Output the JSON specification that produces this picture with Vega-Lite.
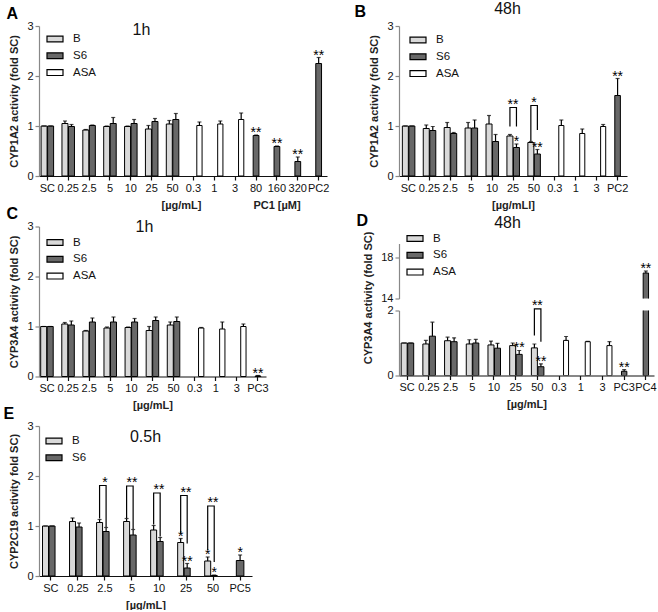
{
"$schema":"https://vega.github.io/schema/vega-lite/v6.json",
"padding":{"left":3,"top":0,"right":0,"bottom":0},
"background":"white",
"config":{
 "font":"Liberation Sans",
 "view":{"stroke":null},
 "axis":{"grid":false,"labelFont":"Liberation Sans","labelFontSize":11,"labelColor":"#111","titleFont":"Liberation Sans","titleFontSize":11,"titleFontWeight":"bold","titleColor":"#222","tickSize":4,"labelPadding":2,"domainWidth":1.2,"tickWidth":1.2},
 "axisX":{"labelAngle":0,"labelOverlap":false,"domainColor":"#111","tickColor":"#111","titlePadding":6},
 "axisY":{"domainColor":"#888","tickColor":"#888","titlePadding":7},
 "legend":{"symbolType":"M-1,-0.36H1V0.36H-1Z","symbolSize":256,"symbolStrokeColor":"#000","symbolStrokeWidth":1.2,"labelFontSize":11.5,"labelOffset":9,"rowPadding":1.8,"padding":0,"labelColor":"#111","labelFont":"Liberation Sans"},
 "title":{"font":"Liberation Sans","color":"#111"},
 "text":{"font":"Liberation Sans"}
},
"datasets":{
 "a":[
  {"c":"SC","s":"B","v":1,"h":1,"sig":""},{"c":"SC","s":"S6","v":1,"h":1,"sig":""},
  {"c":"0.25","s":"B","v":1.05,"h":1.1,"sig":""},{"c":"0.25","s":"S6","v":0.99,"h":1.03,"sig":""},
  {"c":"2.5","s":"B","v":0.92,"h":0.93,"sig":""},{"c":"2.5","s":"S6","v":1.01,"h":1.02,"sig":""},
  {"c":"5","s":"B","v":0.99,"h":1.0,"sig":""},{"c":"5","s":"S6","v":1.05,"h":1.17,"sig":""},
  {"c":"10","s":"B","v":0.99,"h":1.0,"sig":""},{"c":"10","s":"S6","v":1.05,"h":1.13,"sig":""},
  {"c":"25","s":"B","v":0.94,"h":1.01,"sig":""},{"c":"25","s":"S6","v":1.09,"h":1.15,"sig":""},
  {"c":"50","s":"B","v":1.04,"h":1.11,"sig":""},{"c":"50","s":"S6","v":1.13,"h":1.25,"sig":""},
  {"c":"0.3","s":"ASA","v":1.01,"h":1.08,"sig":""},
  {"c":"1","s":"ASA","v":1.04,"h":1.1,"sig":""},
  {"c":"3","s":"ASA","v":1.13,"h":1.26,"sig":""},
  {"c":"80","s":"PC","v":0.81,"h":0.82,"sig":"**"},
  {"c":"160","s":"PC","v":0.59,"h":0.6,"sig":"**"},
  {"c":"320","s":"PC","v":0.29,"h":0.38,"sig":"**"},
  {"c":"PC2","s":"PC","v":2.25,"h":2.37,"sig":"**"}
 ],
 "b":[
  {"c":"SC","s":"B","v":1,"h":1,"sig":""},{"c":"SC","s":"S6","v":1,"h":1,"sig":""},
  {"c":"0.25","s":"B","v":0.95,"h":1.02,"sig":""},{"c":"0.25","s":"S6","v":0.91,"h":0.99,"sig":""},
  {"c":"2.5","s":"B","v":0.97,"h":1.07,"sig":""},{"c":"2.5","s":"S6","v":0.85,"h":0.87,"sig":""},
  {"c":"5","s":"B","v":0.96,"h":1.07,"sig":""},{"c":"5","s":"S6","v":0.96,"h":1.12,"sig":""},
  {"c":"10","s":"B","v":1.04,"h":1.21,"sig":""},{"c":"10","s":"S6","v":0.69,"h":0.83,"sig":""},
  {"c":"25","s":"B","v":0.8,"h":0.83,"sig":""},{"c":"25","s":"S6","v":0.57,"h":0.64,"sig":"*"},
  {"c":"50","s":"B","v":0.67,"h":0.69,"sig":""},{"c":"50","s":"S6","v":0.44,"h":0.53,"sig":"**"},
  {"c":"0.3","s":"ASA","v":1.01,"h":1.12,"sig":""},
  {"c":"1","s":"ASA","v":0.85,"h":0.94,"sig":""},
  {"c":"3","s":"ASA","v":0.99,"h":1.03,"sig":""},
  {"c":"PC2","s":"PC","v":1.61,"h":1.95,"sig":"**"}
 ],
 "bb":[
  {"c":"25","s":"B","y":0.99,"k":1,"sig":""},{"c":"25","s":"B","y":1.37,"k":2,"sig":"**"},{"c":"25","s":"S6","y":1.37,"k":3,"sig":""},{"c":"25","s":"S6","y":0.99,"k":4,"sig":""},
  {"c":"50","s":"B","y":0.7,"k":1,"sig":""},{"c":"50","s":"B","y":1.41,"k":2,"sig":"*"},{"c":"50","s":"S6","y":1.41,"k":3,"sig":""},{"c":"50","s":"S6","y":0.92,"k":4,"sig":""}
 ],
 "c":[
  {"c":"SC","s":"B","v":1,"h":1,"sig":""},{"c":"SC","s":"S6","v":1,"h":1,"sig":""},
  {"c":"0.25","s":"B","v":1.05,"h":1.08,"sig":""},{"c":"0.25","s":"S6","v":1.03,"h":1.11,"sig":""},
  {"c":"2.5","s":"B","v":0.91,"h":0.92,"sig":""},{"c":"2.5","s":"S6","v":1.09,"h":1.17,"sig":""},
  {"c":"5","s":"B","v":0.97,"h":0.99,"sig":""},{"c":"5","s":"S6","v":1.09,"h":1.19,"sig":""},
  {"c":"10","s":"B","v":0.98,"h":0.99,"sig":""},{"c":"10","s":"S6","v":1.09,"h":1.16,"sig":""},
  {"c":"25","s":"B","v":0.92,"h":1.0,"sig":""},{"c":"25","s":"S6","v":1.12,"h":1.19,"sig":""},
  {"c":"50","s":"B","v":1.03,"h":1.09,"sig":""},{"c":"50","s":"S6","v":1.1,"h":1.19,"sig":""},
  {"c":"0.3","s":"ASA","v":0.97,"h":0.98,"sig":""},
  {"c":"1","s":"ASA","v":0.95,"h":1.09,"sig":""},
  {"c":"3","s":"ASA","v":1.0,"h":1.05,"sig":""},
  {"c":"PC3","s":"PC","v":0.01,"h":0.02,"sig":"**"}
 ],
 "d":[
  {"c":"SC","s":"B","v":1,"h":1,"sig":""},{"c":"SC","s":"S6","v":1,"h":1,"sig":""},
  {"c":"0.25","s":"B","v":0.97,"h":1.08,"sig":""},{"c":"0.25","s":"S6","v":1.21,"h":1.64,"sig":""},
  {"c":"2.5","s":"B","v":1.07,"h":1.18,"sig":""},{"c":"2.5","s":"S6","v":1.04,"h":1.16,"sig":""},
  {"c":"5","s":"B","v":0.97,"h":1.1,"sig":""},{"c":"5","s":"S6","v":1.0,"h":1.11,"sig":""},
  {"c":"10","s":"B","v":0.94,"h":1.06,"sig":""},{"c":"10","s":"S6","v":0.84,"h":0.99,"sig":""},
  {"c":"25","s":"B","v":0.92,"h":1.0,"sig":""},{"c":"25","s":"S6","v":0.65,"h":0.77,"sig":"**"},
  {"c":"50","s":"B","v":0.85,"h":0.97,"sig":""},{"c":"50","s":"S6","v":0.27,"h":0.36,"sig":"**"},
  {"c":"0.3","s":"ASA","v":1.08,"h":1.2,"sig":""},
  {"c":"1","s":"ASA","v":1.04,"h":1.05,"sig":""},
  {"c":"3","s":"ASA","v":0.92,"h":1.04,"sig":""},
  {"c":"PC3","s":"PC","v":0.13,"h":0.18,"sig":"**"},
  {"c":"PC4","s":"PC","v":16.5,"h":16.7,"sig":"**"}
 ],
 "db":[
  {"c":"50","s":"B","y":1.23,"k":1,"sig":""},{"c":"50","s":"B","y":2.05,"k":2,"sig":"**"},{"c":"50","s":"S6","y":2.05,"k":3,"sig":""},{"c":"50","s":"S6","y":1.04,"k":4,"sig":""}
 ],
 "e":[
  {"c":"SC","s":"B","v":1,"h":1,"sig":""},{"c":"SC","s":"S6","v":1,"h":1,"sig":""},
  {"c":"0.25","s":"B","v":1.09,"h":1.16,"sig":""},{"c":"0.25","s":"S6","v":0.98,"h":1.06,"sig":""},
  {"c":"2.5","s":"B","v":1.07,"h":1.13,"sig":""},{"c":"2.5","s":"S6","v":0.89,"h":0.97,"sig":""},
  {"c":"5","s":"B","v":1.09,"h":1.15,"sig":""},{"c":"5","s":"S6","v":0.82,"h":0.93,"sig":""},
  {"c":"10","s":"B","v":0.92,"h":1.01,"sig":""},{"c":"10","s":"S6","v":0.69,"h":0.77,"sig":""},
  {"c":"25","s":"B","v":0.67,"h":0.75,"sig":"*"},{"c":"25","s":"S6","v":0.16,"h":0.25,"sig":"**"},
  {"c":"50","s":"B","v":0.3,"h":0.38,"sig":"*"},{"c":"50","s":"S6","v":0.01,"h":0.02,"sig":"*"},
  {"c":"PC5","s":"PC","v":0.31,"h":0.42,"sig":"*"}
 ],
 "eb":[
  {"c":"2.5","s":"B","y":1.15,"k":1,"sig":""},{"c":"2.5","s":"B","y":1.81,"k":2,"sig":"*"},{"c":"2.5","s":"S6","y":1.81,"k":3,"sig":""},{"c":"2.5","s":"S6","y":0.98,"k":4,"sig":""},
  {"c":"5","s":"B","y":1.16,"k":1,"sig":""},{"c":"5","s":"B","y":1.8,"k":2,"sig":"**"},{"c":"5","s":"S6","y":1.8,"k":3,"sig":""},{"c":"5","s":"S6","y":0.94,"k":4,"sig":""},
  {"c":"10","s":"B","y":1.03,"k":1,"sig":""},{"c":"10","s":"B","y":1.66,"k":2,"sig":"**"},{"c":"10","s":"S6","y":1.66,"k":3,"sig":""},{"c":"10","s":"S6","y":0.79,"k":4,"sig":""},
  {"c":"25","s":"B","y":0.85,"k":1,"sig":""},{"c":"25","s":"B","y":1.61,"k":2,"sig":"**"},{"c":"25","s":"S6","y":1.61,"k":3,"sig":""},{"c":"25","s":"S6","y":0.65,"k":4,"sig":""},
  {"c":"50","s":"B","y":0.52,"k":1,"sig":""},{"c":"50","s":"B","y":1.4,"k":2,"sig":"**"},{"c":"50","s":"S6","y":1.4,"k":3,"sig":""},{"c":"50","s":"S6","y":0.28,"k":4,"sig":""}
 ]
},
"resolve":{"scale":{"fill":"independent"},"legend":{"fill":"independent"}},
"spacing":25,
"hconcat":[
 {"resolve":{"scale":{"fill":"independent"},"legend":{"fill":"independent"}},
  "spacing":-6,
  "vconcat":[
  {"resolve":{"scale":{"fill":"independent"},"legend":{"fill":"independent"}},
   "spacing":-4.5,
   "vconcat":[
     {"width":288,"height":150,
      "data":{"name":"a"},
      "resolve":{"axis":{"x":"independent","y":"independent"}},
      "layer":[
       {"layer":[
        {"transform":[{"filter":"datum.s == 'B' || datum.s == 'S6'"}],
         "encoding":{
          "x":{"field":"c","type":"nominal","scale":{"domain":["SC","0.25","2.5","5","10","25","50","0.3","1","3","80","160","320","PC2"],"paddingInner":0.4,"paddingOuter":0.1},"axis":{"orient":"bottom","title":"[µg/mL]\u00a0\u00a0\u00a0\u00a0\u00a0\u00a0\u00a0\u00a0\u00a0\u00a0\u00a0\u00a0\u00a0\u00a0\u00a0\u00a0\u00a0PC1 [µM]","titleAlign":"left","titleAnchor":"start","titleX":122}},
          "xOffset":{"field":"s","type":"nominal","scale":{"domain":["B","S6"],"paddingInner":0.08}}},
         "layer":[
          {"mark":{"type":"bar","stroke":"#000","strokeWidth":1},"encoding":{"y":{"field":"v","type":"quantitative","scale":{"domain":[0,3],"nice":false},"axis":{"orient":"left","title":"CYP1A2 activity (fold SC)","values":[0,1,2,3]}},"fill":{"field":"s","type":"nominal","scale":{"domain":["B","S6","ASA","PC"],"range":["#d9d9d9","#686868","#ffffff","#686868"]},"legend":{"orient":"none","legendX":7,"legendY":4,"title":null,"values":["B","S6","ASA"]}}}},
          {"mark":{"type":"rule","color":"#000","strokeWidth":1.2},"encoding":{"y":{"field":"v","type":"quantitative"},"y2":{"field":"h"}}},
          {"mark":{"type":"tick","color":"#000","size":4,"thickness":1.2},"encoding":{"y":{"field":"h","type":"quantitative"}}},
          {"mark":{"type":"text","fontSize":14,"baseline":"alphabetic","dy":2,"color":"#000"},"encoding":{"y":{"field":"h","type":"quantitative"},"text":{"field":"sig"}}}
         ]},
        {"transform":[{"filter":"datum.s == 'ASA'"}],
         "encoding":{"x":{"field":"c","type":"nominal"}},
         "layer":[
          {"mark":{"type":"bar","stroke":"#000","strokeWidth":1,"width":{"band":0.42},"xOffset":6},"encoding":{"y":{"field":"v","type":"quantitative"},"fill":{"field":"s","type":"nominal"}}},
          {"mark":{"type":"rule","color":"#000","strokeWidth":1.2,"xOffset":6},"encoding":{"y":{"field":"v","type":"quantitative"},"y2":{"field":"h"}}},
          {"mark":{"type":"tick","color":"#000","size":4,"thickness":1.2,"xOffset":6},"encoding":{"y":{"field":"h","type":"quantitative"}}}
         ]},
        {"transform":[{"filter":"datum.s == 'PC'"}],
         "encoding":{"x":{"field":"c","type":"nominal"}},
         "layer":[
          {"mark":{"type":"bar","stroke":"#000","strokeWidth":1,"width":{"band":0.46}},"encoding":{"y":{"field":"v","type":"quantitative"},"fill":{"field":"s","type":"nominal"}}},
          {"mark":{"type":"rule","color":"#000","strokeWidth":1.2},"encoding":{"y":{"field":"v","type":"quantitative"},"y2":{"field":"h"}}},
          {"mark":{"type":"tick","color":"#000","size":4,"thickness":1.2},"encoding":{"y":{"field":"h","type":"quantitative"}}}
         ]}
       ]},
       {"transform":[{"filter":"datum.s == 'PC'"}],
        "mark":{"type":"text","fontSize":14,"baseline":"alphabetic","dy":2,"color":"#000"},
        "encoding":{
         "x":{"field":"c","type":"nominal","axis":{"orient":"top","title":"1h","labels":false,"ticks":false,"domain":false,"minExtent":0,"titleX":102,"titleY":8,"titleAlign":"center","titleBaseline":"alphabetic","titleFontSize":16,"titleFontWeight":"normal","titleColor":"#111","titlePadding":0}},
         "y":{"field":"h","type":"quantitative","axis":{"orient":"right","title":"A","labels":false,"ticks":false,"domain":false,"minExtent":0,"titleAngle":0,"titleX":-321,"titleY":-8,"titleAlign":"left","titleBaseline":"alphabetic","titleFontSize":16,"titleFontWeight":"bold","titleColor":"#000","titlePadding":0}},
         "text":{"field":"sig"}}}
      ]},
     {"width":227,"height":150,
      "data":{"name":"c"},
      "resolve":{"axis":{"x":"independent","y":"independent"}},
      "layer":[
       {"layer":[
        {"transform":[{"filter":"datum.s == 'B' || datum.s == 'S6'"}],
         "encoding":{
          "x":{"field":"c","type":"nominal","scale":{"domain":["SC","0.25","2.5","5","10","25","50","0.3","1","3","PC3"],"paddingInner":0.4,"paddingOuter":0.08},"axis":{"orient":"bottom","title":"[µg/mL]"}},
          "xOffset":{"field":"s","type":"nominal","scale":{"domain":["B","S6"],"paddingInner":0.08}}},
         "layer":[
          {"mark":{"type":"bar","stroke":"#000","strokeWidth":1},"encoding":{"y":{"field":"v","type":"quantitative","scale":{"domain":[0,3],"nice":false},"axis":{"orient":"left","title":"CYP3A4 activity (fold SC)","values":[0,1,2,3]}},"fill":{"field":"s","type":"nominal","scale":{"domain":["B","S6","ASA","PC"],"range":["#d9d9d9","#686868","#ffffff","#686868"]},"legend":{"orient":"none","legendX":7,"legendY":7,"title":null,"values":["B","S6","ASA"]}}}},
          {"mark":{"type":"rule","color":"#000","strokeWidth":1.2},"encoding":{"y":{"field":"v","type":"quantitative"},"y2":{"field":"h"}}},
          {"mark":{"type":"tick","color":"#000","size":4,"thickness":1.2},"encoding":{"y":{"field":"h","type":"quantitative"}}}
         ]},
        {"transform":[{"filter":"datum.s == 'ASA'"}],
         "encoding":{"x":{"field":"c","type":"nominal"}},
         "layer":[
          {"mark":{"type":"bar","stroke":"#000","strokeWidth":1,"width":{"band":0.42},"xOffset":6.5},"encoding":{"y":{"field":"v","type":"quantitative"},"fill":{"field":"s","type":"nominal"}}},
          {"mark":{"type":"rule","color":"#000","strokeWidth":1.2,"xOffset":6.5},"encoding":{"y":{"field":"v","type":"quantitative"},"y2":{"field":"h"}}},
          {"mark":{"type":"tick","color":"#000","size":4,"thickness":1.2,"xOffset":6.5},"encoding":{"y":{"field":"h","type":"quantitative"}}}
         ]},
        {"transform":[{"filter":"datum.s == 'PC'"}],
         "encoding":{"x":{"field":"c","type":"nominal"}},
         "layer":[
          {"mark":{"type":"bar","stroke":"#000","strokeWidth":1,"width":{"band":0.46}},"encoding":{"y":{"field":"v","type":"quantitative"},"fill":{"field":"s","type":"nominal"}}},
          {"mark":{"type":"rule","color":"#000","strokeWidth":1.2},"encoding":{"y":{"field":"v","type":"quantitative"},"y2":{"field":"h"}}},
          {"mark":{"type":"tick","color":"#000","size":4,"thickness":1.2},"encoding":{"y":{"field":"h","type":"quantitative"}}}
         ]}
       ]},
       {"transform":[{"filter":"datum.s == 'PC'"}],
        "mark":{"type":"text","fontSize":14,"baseline":"alphabetic","dy":2,"color":"#000"},
        "encoding":{
         "x":{"field":"c","type":"nominal","axis":{"orient":"top","title":"1h","labels":false,"ticks":false,"domain":false,"minExtent":0,"titleX":105,"titleY":5,"titleAlign":"center","titleBaseline":"alphabetic","titleFontSize":16,"titleFontWeight":"normal","titleColor":"#111","titlePadding":0}},
         "y":{"field":"h","type":"quantitative","axis":{"orient":"right","title":"C","labels":false,"ticks":false,"domain":false,"minExtent":0,"titleAngle":0,"titleX":-260,"titleY":-8,"titleAlign":"left","titleBaseline":"alphabetic","titleFontSize":16,"titleFontWeight":"bold","titleColor":"#000","titlePadding":0}},
         "text":{"field":"sig"}}}
      ]}
   ]},
     {"width":213,"height":150,
      "data":{"name":"e"},
      "resolve":{"axis":{"x":"independent","y":"independent"}},
      "layer":[
       {"layer":[
        {"transform":[{"filter":"datum.s == 'B' || datum.s == 'S6'"}],
         "encoding":{
          "x":{"field":"c","type":"nominal","scale":{"domain":["SC","0.25","2.5","5","10","25","50","PC5"],"paddingInner":0.38,"paddingOuter":0.13},"axis":{"orient":"bottom","title":"[µg/mL]"}},
          "xOffset":{"field":"s","type":"nominal","scale":{"domain":["B","S6"],"paddingInner":0.35}}},
         "layer":[
          {"mark":{"type":"bar","stroke":"#000","strokeWidth":1},"encoding":{"y":{"field":"v","type":"quantitative","scale":{"domain":[0,3],"nice":false},"axis":{"orient":"left","title":"CYP2C19 activity fold SC)","values":[0,1,2,3]}},"fill":{"field":"s","type":"nominal","scale":{"domain":["B","S6","ASA","PC"],"range":["#d9d9d9","#686868","#ffffff","#686868"]},"legend":{"orient":"none","legendX":6,"legendY":6,"title":null,"values":["B","S6"]}}}},
          {"mark":{"type":"rule","color":"#000","strokeWidth":1.2},"encoding":{"y":{"field":"v","type":"quantitative"},"y2":{"field":"h"}}},
          {"mark":{"type":"tick","color":"#000","size":4,"thickness":1.2},"encoding":{"y":{"field":"h","type":"quantitative"}}},
          {"mark":{"type":"text","fontSize":14,"baseline":"alphabetic","dy":2,"color":"#000"},"encoding":{"y":{"field":"h","type":"quantitative"},"text":{"field":"sig"}}}
         ]},
        {"transform":[{"filter":"datum.s == 'PC'"}],
         "encoding":{"x":{"field":"c","type":"nominal"}},
         "layer":[
          {"mark":{"type":"bar","stroke":"#000","strokeWidth":1,"width":{"band":0.45}},"encoding":{"y":{"field":"v","type":"quantitative"},"fill":{"field":"s","type":"nominal"}}},
          {"mark":{"type":"rule","color":"#000","strokeWidth":1.2},"encoding":{"y":{"field":"v","type":"quantitative"},"y2":{"field":"h"}}},
          {"mark":{"type":"tick","color":"#000","size":4,"thickness":1.2},"encoding":{"y":{"field":"h","type":"quantitative"}}}
         ]},
        {"data":{"name":"eb"},
         "layer":[
          {"mark":{"type":"line","color":"#000","strokeWidth":1.2},"encoding":{"x":{"field":"c","type":"nominal"},"xOffset":{"field":"s","type":"nominal"},"y":{"field":"y","type":"quantitative"},"order":{"field":"k","type":"quantitative"},"detail":{"field":"c","type":"nominal"}}},
          {"transform":[{"filter":"datum.k == 2"}],"mark":{"type":"text","fontSize":14,"baseline":"alphabetic","dy":1,"color":"#000"},"encoding":{"x":{"field":"c","type":"nominal"},"y":{"field":"y","type":"quantitative"},"text":{"field":"sig"}}}
         ]}
       ]},
       {"transform":[{"filter":"datum.s == 'PC'"}],
        "mark":{"type":"text","fontSize":14,"baseline":"alphabetic","dy":2,"color":"#000"},
        "encoding":{
         "x":{"field":"c","type":"nominal","axis":{"orient":"top","title":"0.5h","labels":false,"ticks":false,"domain":false,"minExtent":0,"titleX":106,"titleY":15.5,"titleAlign":"center","titleBaseline":"alphabetic","titleFontSize":16,"titleFontWeight":"normal","titleColor":"#111","titlePadding":0}},
         "y":{"field":"h","type":"quantitative","axis":{"orient":"right","title":"E","labels":false,"ticks":false,"domain":false,"minExtent":0,"titleAngle":0,"titleX":-249,"titleY":-8,"titleAlign":"left","titleBaseline":"alphabetic","titleFontSize":16,"titleFontWeight":"bold","titleColor":"#000","titlePadding":0}},
         "text":{"field":"sig"}}}
      ]}
  ]},
 {"resolve":{"scale":{"fill":"independent"},"legend":{"fill":"independent"}},
  "spacing":2.5,
  "vconcat":[
     {"width":228,"height":150,
      "data":{"name":"b"},
      "resolve":{"axis":{"x":"independent","y":"independent"}},
      "layer":[
       {"layer":[
        {"transform":[{"filter":"datum.s == 'B' || datum.s == 'S6'"}],
         "encoding":{
          "x":{"field":"c","type":"nominal","scale":{"domain":["SC","0.25","2.5","5","10","25","50","0.3","1","3","PC2"],"paddingInner":0.42,"paddingOuter":0.16},"axis":{"orient":"bottom","title":"[µg/mLl]"}},
          "xOffset":{"field":"s","type":"nominal","scale":{"domain":["B","S6"],"paddingInner":0.08}}},
         "layer":[
          {"mark":{"type":"bar","stroke":"#000","strokeWidth":1},"encoding":{"y":{"field":"v","type":"quantitative","scale":{"domain":[0,3],"nice":false},"axis":{"orient":"left","title":"CYP1A2 activity (fold SC)","values":[0,1,2,3]}},"fill":{"field":"s","type":"nominal","scale":{"domain":["B","S6","ASA","PC"],"range":["#d9d9d9","#686868","#ffffff","#686868"]},"legend":{"orient":"none","legendX":10,"legendY":5,"title":null,"values":["B","S6","ASA"]}}}},
          {"mark":{"type":"rule","color":"#000","strokeWidth":1.2},"encoding":{"y":{"field":"v","type":"quantitative"},"y2":{"field":"h"}}},
          {"mark":{"type":"tick","color":"#000","size":4,"thickness":1.2},"encoding":{"y":{"field":"h","type":"quantitative"}}},
          {"mark":{"type":"text","fontSize":14,"baseline":"alphabetic","dy":2,"color":"#000"},"encoding":{"y":{"field":"h","type":"quantitative"},"text":{"field":"sig"}}}
         ]},
        {"transform":[{"filter":"datum.s == 'ASA'"}],
         "encoding":{"x":{"field":"c","type":"nominal"}},
         "layer":[
          {"mark":{"type":"bar","stroke":"#000","strokeWidth":1,"width":{"band":0.42},"xOffset":6.5},"encoding":{"y":{"field":"v","type":"quantitative"},"fill":{"field":"s","type":"nominal"}}},
          {"mark":{"type":"rule","color":"#000","strokeWidth":1.2,"xOffset":6.5},"encoding":{"y":{"field":"v","type":"quantitative"},"y2":{"field":"h"}}},
          {"mark":{"type":"tick","color":"#000","size":4,"thickness":1.2,"xOffset":6.5},"encoding":{"y":{"field":"h","type":"quantitative"}}}
         ]},
        {"transform":[{"filter":"datum.s == 'PC'"}],
         "encoding":{"x":{"field":"c","type":"nominal"}},
         "layer":[
          {"mark":{"type":"bar","stroke":"#000","strokeWidth":1,"width":{"band":0.46}},"encoding":{"y":{"field":"v","type":"quantitative"},"fill":{"field":"s","type":"nominal"}}},
          {"mark":{"type":"rule","color":"#000","strokeWidth":1.2},"encoding":{"y":{"field":"v","type":"quantitative"},"y2":{"field":"h"}}},
          {"mark":{"type":"tick","color":"#000","size":4,"thickness":1.2},"encoding":{"y":{"field":"h","type":"quantitative"}}}
         ]},
        {"data":{"name":"bb"},
         "layer":[
          {"mark":{"type":"line","color":"#000","strokeWidth":1.2},"encoding":{"x":{"field":"c","type":"nominal"},"xOffset":{"field":"s","type":"nominal"},"y":{"field":"y","type":"quantitative"},"order":{"field":"k","type":"quantitative"},"detail":{"field":"c","type":"nominal"}}},
          {"transform":[{"filter":"datum.k == 2"}],"mark":{"type":"text","fontSize":14,"baseline":"alphabetic","dy":1,"color":"#000"},"encoding":{"x":{"field":"c","type":"nominal"},"y":{"field":"y","type":"quantitative"},"text":{"field":"sig"}}}
         ]}
       ]},
       {"transform":[{"filter":"datum.s == 'PC'"}],
        "mark":{"type":"text","fontSize":14,"baseline":"alphabetic","dy":2,"color":"#000"},
        "encoding":{
         "x":{"field":"c","type":"nominal","axis":{"orient":"top","title":"48h","labels":false,"ticks":false,"domain":false,"minExtent":0,"titleX":108,"titleY":-12.5,"titleAlign":"center","titleBaseline":"alphabetic","titleFontSize":16,"titleFontWeight":"normal","titleColor":"#111","titlePadding":0}},
         "y":{"field":"h","type":"quantitative","axis":{"orient":"right","title":"B","labels":false,"ticks":false,"domain":false,"minExtent":0,"titleAngle":0,"titleX":-273,"titleY":-10,"titleAlign":"left","titleBaseline":"alphabetic","titleFontSize":16,"titleFontWeight":"bold","titleColor":"#000","titlePadding":0}},
         "text":{"field":"sig"}}}
      ]},
   {"resolve":{"scale":{"fill":"independent"},"legend":{"fill":"independent"}},
    "spacing":12,
    "bounds":"flush",
    "vconcat":[
     {"width":255,"height":55,
      "data":{"name":"d"},
      "transform":[{"filter":"datum.c == 'PC4'"}],
      "encoding":{"x":{"field":"c","type":"nominal","scale":{"domain":["SC","0.25","2.5","5","10","25","50","0.3","1","3","PC3","PC4"],"paddingInner":0.45,"paddingOuter":0.1},"axis":{"orient":"top","title":"48h","labels":false,"ticks":false,"domain":false,"minExtent":0,"titleX":108,"titleY":-16,"titleAlign":"center","titleBaseline":"alphabetic","titleFontSize":16,"titleFontWeight":"normal","titleColor":"#111","titlePadding":0}}},
      "layer":[
       {"mark":{"type":"bar","stroke":"#000","strokeWidth":1,"width":{"band":0.45},"clip":true},"encoding":{"y":{"field":"v","type":"quantitative","scale":{"domain":[14,19.4],"nice":false,"zero":false},"axis":{"title":"D","titleAngle":0,"titleX":-43,"titleY":-18,"titleAlign":"left","titleBaseline":"alphabetic","titleFontSize":16,"titleFontWeight":"bold","titleColor":"#000","values":[14,16,18]}},"fill":{"field":"s","type":"nominal","scale":{"domain":["B","S6","ASA","PC"],"range":["#d9d9d9","#686868","#ffffff","#686868"]},"legend":{"orient":"none","legendX":7,"legendY":-14,"title":null,"values":["B","S6","ASA"]}}}},
       {"mark":{"type":"rule","color":"#000","strokeWidth":1.2},"encoding":{"y":{"field":"v","type":"quantitative"},"y2":{"field":"h"}}},
       {"mark":{"type":"tick","color":"#000","size":4,"thickness":1.2},"encoding":{"y":{"field":"h","type":"quantitative"}}},
       {"mark":{"type":"text","fontSize":14,"baseline":"alphabetic","dy":2,"color":"#000"},"encoding":{"y":{"field":"h","type":"quantitative"},"text":{"field":"sig"}}}
      ]},
     {"width":255,"height":65,
      "data":{"name":"d"},
      "layer":[
       {"transform":[{"filter":"datum.s == 'B' || datum.s == 'S6'"}],
        "encoding":{
         "x":{"field":"c","type":"nominal","scale":{"domain":["SC","0.25","2.5","5","10","25","50","0.3","1","3","PC3","PC4"],"paddingInner":0.45,"paddingOuter":0.1},"axis":{"title":"[µg/mL]"}},
         "xOffset":{"field":"s","type":"nominal","scale":{"domain":["B","S6"],"paddingInner":0.08}}},
        "layer":[
         {"mark":{"type":"bar","stroke":"#000","strokeWidth":1,"clip":true},"encoding":{"y":{"field":"v","type":"quantitative","scale":{"domain":[0,2],"nice":false},"axis":{"title":"CYP3A4 activity (fold SC)","values":[0,1,2],"titleY":-13,"titlePadding":13}},"fill":{"field":"s","type":"nominal","scale":{"domain":["B","S6","ASA","PC"],"range":["#d9d9d9","#686868","#ffffff","#686868"]},"legend":null}}},
         {"mark":{"type":"rule","color":"#000","strokeWidth":1.2,"clip":true},"encoding":{"y":{"field":"v","type":"quantitative"},"y2":{"field":"h"}}},
         {"mark":{"type":"tick","color":"#000","size":4,"thickness":1.2,"clip":true},"encoding":{"y":{"field":"h","type":"quantitative"}}},
         {"mark":{"type":"text","fontSize":14,"baseline":"alphabetic","dy":2,"color":"#000","clip":true},"encoding":{"y":{"field":"h","type":"quantitative"},"text":{"field":"sig"}}}
        ]},
       {"transform":[{"filter":"datum.s == 'ASA'"}],
        "encoding":{"x":{"field":"c","type":"nominal"}},
        "layer":[
         {"mark":{"type":"bar","stroke":"#000","strokeWidth":1,"width":{"band":0.42},"xOffset":7,"clip":true},"encoding":{"y":{"field":"v","type":"quantitative"},"fill":{"field":"s","type":"nominal","legend":null}}},
         {"mark":{"type":"rule","color":"#000","strokeWidth":1.2,"xOffset":7,"clip":true},"encoding":{"y":{"field":"v","type":"quantitative"},"y2":{"field":"h"}}},
         {"mark":{"type":"tick","color":"#000","size":4,"thickness":1.2,"xOffset":7,"clip":true},"encoding":{"y":{"field":"h","type":"quantitative"}}}
        ]},
       {"transform":[{"filter":"datum.s == 'PC'"}],
        "encoding":{"x":{"field":"c","type":"nominal"}},
        "layer":[
         {"mark":{"type":"bar","stroke":"#000","strokeWidth":1,"width":{"band":0.45},"clip":true},"encoding":{"y":{"field":"v","type":"quantitative"},"fill":{"field":"s","type":"nominal","legend":null}}},
         {"mark":{"type":"rule","color":"#000","strokeWidth":1.2,"clip":true},"encoding":{"y":{"field":"v","type":"quantitative"},"y2":{"field":"h"}}},
         {"mark":{"type":"tick","color":"#000","size":4,"thickness":1.2,"clip":true},"encoding":{"y":{"field":"h","type":"quantitative"}}},
         {"mark":{"type":"text","fontSize":14,"baseline":"alphabetic","dy":2,"color":"#000","clip":true},"encoding":{"y":{"field":"h","type":"quantitative"},"text":{"field":"sig"}}}
        ]},
       {"data":{"name":"db"},
        "layer":[
         {"mark":{"type":"line","color":"#000","strokeWidth":1.2},"encoding":{"x":{"field":"c","type":"nominal"},"xOffset":{"field":"s","type":"nominal"},"y":{"field":"y","type":"quantitative"},"order":{"field":"k","type":"quantitative"},"detail":{"field":"c","type":"nominal"}}},
         {"transform":[{"filter":"datum.k == 2"}],"mark":{"type":"text","fontSize":14,"baseline":"alphabetic","dy":1,"color":"#000"},"encoding":{"x":{"field":"c","type":"nominal"},"y":{"field":"y","type":"quantitative"},"text":{"field":"sig"}}}
        ]}
      ]}
    ]}
  ]}
]
}
